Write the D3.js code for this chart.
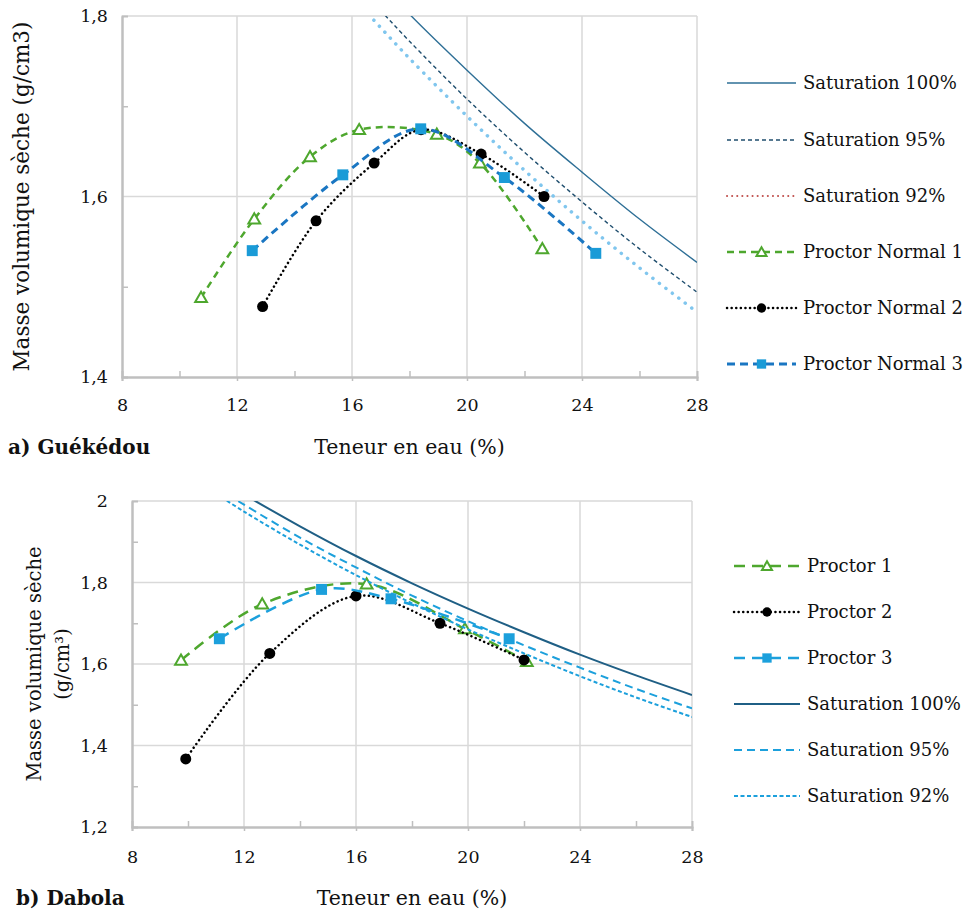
<!DOCTYPE html>
<html>
<head>
<meta charset="utf-8">
<script src="https://cdn.jsdelivr.net/npm/d3@7"></script>
<style>
  body { margin: 0; background: #fff; }
  text { font-family: "DejaVu Serif", serif; fill: #111; }
</style>
</head>
<body>
<script>
// ---- data ----
const xTicks = [8, 12, 16, 20, 24, 28];
const xMinor = [10, 14, 18, 22, 26];

// a) Guekedou
const guekYTicks = [1.4, 1.6, 1.8];
const guekYMinor = [1.5, 1.7];
const guekSatW = [16, 17, 18, 20, 22, 24, 26, 28];
const guekSat100 = [1.870, 1.836, 1.802, 1.740, 1.681, 1.627, 1.575, 1.527];
const guekSat95 = [1.841, 1.806, 1.772, 1.708, 1.649, 1.594, 1.542, 1.494];
const guekSat92 = [1.822, 1.787, 1.753, 1.689, 1.629, 1.573, 1.521, 1.472];
const guekPN1W = [10.75, 12.6, 14.54, 16.25, 18.95, 20.45, 22.62];
const guekPN1D = [1.488, 1.575, 1.644, 1.674, 1.669, 1.637, 1.542];
const guekPN2W = [12.89, 14.75, 16.77, 18.4, 20.49, 22.68];
const guekPN2D = [1.478, 1.573, 1.637, 1.674, 1.647, 1.600];
const guekPN3W = [12.53, 15.68, 18.39, 21.3, 24.48];
const guekPN3D = [1.540, 1.624, 1.675, 1.621, 1.537];

// b) Dabola
const dabYTicks = [1.2, 1.4, 1.6, 1.8, 2];
const dabYMinor = [1.3, 1.5, 1.7, 1.9];
const dabSatW = [11, 12, 14, 16, 18, 20, 22, 24, 26, 28];
const dabSat100 = [2.057, 2.016, 1.938, 1.865, 1.798, 1.736, 1.678, 1.623, 1.572, 1.524];
const dabSat95 = [2.033, 1.991, 1.910, 1.837, 1.768, 1.705, 1.646, 1.591, 1.539, 1.491];
const dabSat92 = [2.018, 1.974, 1.893, 1.818, 1.749, 1.685, 1.626, 1.570, 1.518, 1.470];
const dabP1W = [9.75, 12.65, 16.38, 19.89, 22.1];
const dabP1D = [1.609, 1.747, 1.796, 1.686, 1.606];
const dabP2W = [9.92, 12.92, 16.0, 19.0, 22.0];
const dabP2D = [1.367, 1.626, 1.767, 1.700, 1.610];
const dabP3W = [11.12, 14.77, 17.25, 21.47];
const dabP3D = [1.662, 1.783, 1.760, 1.662];

const svg = d3.select("body").append("svg")
  .attr("width", 968).attr("height", 916);

function pts(ws, ds) { return ws.map((w, i) => [w, ds[i]]); }
function fmt(d) { return String(d).replace(".", ","); }

function drawMarker(g, type, cx, cy, st, small) {
  const k = small ? 0.85 : 1;
  if (type === "tri") {
    g.append("path").attr("d", d3.symbol(d3.symbolTriangle, 60 * k * k)())
      .attr("transform", `translate(${cx},${cy + 1})`)
      .attr("fill", "#fff").attr("stroke", st.color).attr("stroke-width", 2);
  } else if (type === "circle") {
    g.append("circle").attr("cx", cx).attr("cy", cy).attr("r", 5.5 * k).attr("fill", "#000");
  } else if (type === "square") {
    g.append("path").attr("d", d3.symbol(d3.symbolSquare, 120 * k * k)())
      .attr("transform", `translate(${cx},${cy})`).attr("fill", st.mcolor || st.color);
  }
}

function drawPanel(p) {
  const x = d3.scaleLinear().domain([8, 28]).range([p.left, p.right]);
  const y = d3.scaleLinear().domain(p.yDomain).range([p.bottom, p.top]);
  const g = svg.append("g");

  // grid
  g.append("g").selectAll("line").data(xTicks.slice(1)).join("line")
    .attr("x1", d => x(d)).attr("x2", d => x(d))
    .attr("y1", p.top).attr("y2", p.bottom)
    .attr("stroke", "#d9d9d9").attr("stroke-width", 1.5);
  g.append("g").selectAll("line").data(p.yTicks.slice(1)).join("line")
    .attr("x1", p.left).attr("x2", p.right)
    .attr("y1", d => y(d)).attr("y2", d => y(d))
    .attr("stroke", "#d9d9d9").attr("stroke-width", 1.5);

  // axes
  const xa = g.append("g").attr("transform", `translate(0,${p.bottom})`)
    .call(d3.axisBottom(x).tickValues(xTicks).tickFormat(fmt).tickSize(4).tickPadding(p.xPad));
  const xm = g.append("g").attr("transform", `translate(0,${p.bottom})`)
    .call(d3.axisBottom(x).tickValues(xMinor).tickFormat("").tickSize(-6));
  const ya = g.append("g").attr("transform", `translate(${p.left},0)`)
    .call(d3.axisLeft(y).tickValues(p.yTicks).tickFormat(fmt).tickSize(0).tickPadding(p.yPad));
  const ym = g.append("g").attr("transform", `translate(${p.left},0)`)
    .call(d3.axisLeft(y).tickValues(p.yMinor).tickFormat("").tickSize(-6));
  [xa, xm, ya, ym].forEach(a => {
    a.select(".domain").attr("stroke", "#bfbfbf").attr("stroke-width", 2);
    a.selectAll(".tick line").attr("stroke", "#bfbfbf").attr("stroke-width", 1.5);
    a.selectAll("text").attr("font-family", "DejaVu Serif").attr("font-size", 17.5).attr("fill", "#111");
  });

  // series
  const clipId = "clip" + p.id;
  svg.append("clipPath").attr("id", clipId).append("rect")
    .attr("x", p.left).attr("y", p.top).attr("width", p.right - p.left).attr("height", p.bottom - p.top);
  const line = d3.line().x(d => x(d[0])).y(d => y(d[1])).curve(d3.curveCatmullRom.alpha(0.5));
  const sg = g.append("g").attr("clip-path", `url(#${clipId})`);
  p.series.forEach(s => {
    sg.append("path").attr("d", line(s.data)).attr("fill", "none")
      .attr("stroke", s.color).attr("stroke-width", s.width)
      .attr("stroke-dasharray", s.dash || null)
      .attr("stroke-linecap", s.cap || "butt");
    if (s.marker) s.data.forEach(d => drawMarker(sg, s.marker, x(d[0]), y(d[1]), s, false));
  });

  // legend
  const lg = g.append("g");
  p.series.forEach((s, i) => {
    const ly = p.legY[i];
    lg.append("line").attr("x1", p.legX0).attr("x2", p.legX1).attr("y1", ly).attr("y2", ly)
      .attr("stroke", s.legColor || s.color).attr("stroke-width", s.legWidth || s.width)
      .attr("stroke-dasharray", s.legDash || s.dash || null)
      .attr("stroke-linecap", s.cap || "butt");
    if (s.marker) drawMarker(lg, s.marker, (p.legX0 + p.legX1) / 2, ly, s, true);
    lg.append("text").attr("x", p.legX1 + 7).attr("y", ly).attr("dy", "0.35em")
      .attr("font-size", 18).text(s.name);
  });

  // titles
  g.append("text").attr("x", (p.left + p.right) / 2).attr("y", p.bottom + p.xTitleDy)
    .attr("text-anchor", "middle").attr("font-size", 20.5).text("Teneur en eau (%)");
  g.append("text").attr("x", p.tagX).attr("y", p.bottom + p.xTitleDy)
    .attr("font-size", 20).attr("font-weight", "bold").text(p.tag);
  const cy = (p.top + p.bottom) / 2;
  p.yTitle.forEach((t, i) => {
    g.append("text").attr("transform", `translate(${p.yTitleX[i]},${cy}) rotate(-90)`)
      .attr("text-anchor", "middle").attr("font-size", p.yTitleSize).text(t);
  });
}

drawPanel({
  id: "a", left: 122, right: 697, top: 16, bottom: 377,
  yDomain: [1.4, 1.8], yTicks: guekYTicks, yMinor: guekYMinor,
  xPad: 18, yPad: 14, xTitleDy: 77,
  tag: "a) Guékédou", tagX: 8,
  yTitle: ["Masse volumique sèche (g/cm3)"], yTitleX: [29], yTitleSize: 21.5,
  legX0: 727, legX1: 796, legY: [83, 140, 196, 252, 308, 364],
  series: [
    { name: "Saturation 100%", data: pts(guekSatW, guekSat100), color: "#2e6f96", width: 1.4 },
    { name: "Saturation 95%", data: pts(guekSatW, guekSat95), color: "#1f4e6e", width: 1.4, dash: "4,3" },
    { name: "Saturation 92%", data: pts(guekSatW, guekSat92), color: "#80c6ee", width: 3.5, dash: "0.1,8", cap: "round",
      legColor: "#c0504d", legWidth: 2, legDash: "0.1,5" },
    { name: "Proctor Normal 1", data: pts(guekPN1W, guekPN1D), color: "#4ea72e", width: 2.5, dash: "7,5", marker: "tri" },
    { name: "Proctor Normal 2", data: pts(guekPN2W, guekPN2D), color: "#000", width: 2.5, dash: "0.1,4.5", cap: "round", marker: "circle" },
    { name: "Proctor Normal 3", data: pts(guekPN3W, guekPN3D), color: "#1a76c2", width: 3, dash: "8,5", marker: "square", mcolor: "#1a9bd7" }
  ]
});

drawPanel({
  id: "b", left: 132, right: 692, top: 501, bottom: 827,
  yDomain: [1.2, 2], yTicks: dabYTicks, yMinor: dabYMinor,
  xPad: 20, yPad: 24, xTitleDy: 78,
  tag: "b) Dabola", tagX: 16,
  yTitle: ["Masse volumique sèche", "(g/cm³)"], yTitleX: [41, 69], yTitleSize: 19.5,
  legX0: 734, legX1: 800, legY: [566, 612, 658, 704, 750, 796],
  series: [
    { name: "Proctor 1", data: pts(dabP1W, dabP1D), color: "#4ea72e", width: 2.5, dash: "11,7", marker: "tri" },
    { name: "Proctor 2", data: pts(dabP2W, dabP2D), color: "#000", width: 2.5, dash: "0.1,4.5", cap: "round", marker: "circle" },
    { name: "Proctor 3", data: pts(dabP3W, dabP3D), color: "#1ca0dc", width: 2.5, dash: "11,7", marker: "square" },
    { name: "Saturation 100%", data: pts(dabSatW, dabSat100), color: "#1f5f85", width: 2 },
    { name: "Saturation 95%", data: pts(dabSatW, dabSat95), color: "#1ca0dc", width: 2, dash: "8,5" },
    { name: "Saturation 92%", data: pts(dabSatW, dabSat92), color: "#1ca0dc", width: 2, dash: "4,2.5" }
  ]
});
</script>
</body>
</html>
